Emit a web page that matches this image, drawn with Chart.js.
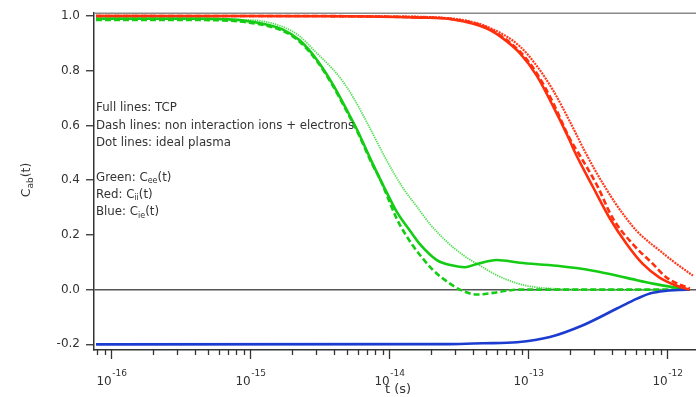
<!DOCTYPE html>
<html><head><meta charset="utf-8">
<script src="https://cdn.jsdelivr.net/npm/chart.js@4/dist/chart.umd.min.js"></script>
<style>html,body{margin:0;padding:0;background:#fff;}#wrap{position:relative;width:696px;height:397px;}</style>
</head><body><div id="wrap"><canvas id="c" width="696" height="397"></canvas></div>
<script>
// ---- data ----
const tRedSolid = [7.8e-17, 1e-15, 5e-15, 1.67e-14, 2.88e-14, 5.07e-14, 6.61e-14, 8.75e-14, 1.16e-13, 1.51e-13, 2.0e-13, 2.18e-13, 2.94e-13, 3.89e-13, 5.15e-13, 6.71e-13, 8.91e-13, 1.18e-12, 1.46e-12];
const cRedSolid = [1.0, 1.0, 0.999, 0.994, 0.987, 0.954, 0.918, 0.864, 0.781, 0.672, 0.545, 0.502, 0.375, 0.260, 0.166, 0.094, 0.043, 0.014, 0.0];

const tRedDash = [7.8e-17, 1e-15, 1.67e-14, 2.88e-14, 5.07e-14, 8.75e-14, 1.16e-13, 1.51e-13, 2.0e-13, 2.29e-13, 3.13e-13, 4.09e-13, 5.69e-13, 7.93e-13, 1.0e-12, 1.46e-12];
const cRedDash = [1.0, 1.0, 0.995, 0.988, 0.957, 0.870, 0.790, 0.685, 0.552, 0.502, 0.383, 0.260, 0.166, 0.094, 0.043, 0.004];

const tRedDot = [7.8e-17, 1e-14, 2.88e-14, 5.07e-14, 8.75e-14, 1.16e-13, 1.51e-13, 2.0e-13, 2.57e-13, 3.03e-13, 3.46e-13, 4.23e-13, 5.15e-13, 6.08e-13, 7.18e-13, 8.91e-13, 1.10e-12, 1.54e-12];
const cRedDot = [1.0, 0.998, 0.990, 0.961, 0.889, 0.817, 0.730, 0.615, 0.505, 0.438, 0.388, 0.318, 0.258, 0.214, 0.180, 0.142, 0.105, 0.051];

const tGreenSolid = [7.8e-17, 4.37e-16, 1.0e-15, 1.73e-15, 2.29e-15, 3.03e-15, 3.95e-15, 4.99e-15, 5.89e-15, 7.55e-15, 9.84e-15, 1.14e-14, 1.49e-14, 1.67e-14, 2.21e-14, 2.88e-14, 3.52e-14, 4.30e-14, 5.98e-14, 8.75e-14, 1.62e-13, 2.94e-13, 5.15e-13, 7.93e-13, 1.18e-12, 1.46e-12];
const cGreenSolid = [0.99, 0.99, 0.98, 0.95, 0.91, 0.84, 0.75, 0.655, 0.585, 0.466, 0.346, 0.284, 0.200, 0.166, 0.108, 0.088, 0.082, 0.094, 0.108, 0.098, 0.087, 0.069, 0.043, 0.022, 0.007, 0.0];

const tGreenDash = [7.8e-17, 4.37e-16, 1.0e-15, 1.73e-15, 2.29e-15, 3.03e-15, 3.95e-15, 4.99e-15, 5.89e-15, 7.55e-15, 8.61e-15, 9.84e-15, 1.14e-14, 1.49e-14, 1.67e-14, 2.07e-14, 2.61e-14, 3.24e-14, 4.30e-14, 5.60e-14, 7.06e-14, 8.75e-14, 3.30e-13, 1.46e-12];
const cGreenDash = [0.985, 0.985, 0.975, 0.945, 0.905, 0.835, 0.745, 0.65, 0.58, 0.46, 0.405, 0.335, 0.258, 0.160, 0.127, 0.072, 0.030, 0.0, -0.018, -0.012, -0.004, 0.0, 0.0, 0.0];

const tGreenDot = [7.8e-17, 1.0e-15, 1.73e-15, 2.29e-15, 3.03e-15, 3.58e-15, 4.44e-15, 5.50e-15, 7.30e-15, 9.68e-15, 1.26e-14, 1.59e-14, 1.97e-14, 2.61e-14, 3.40e-14, 4.52e-14, 5.60e-14, 7.43e-14, 9.84e-14, 1.37e-13, 3.30e-13, 1.46e-12];
const cGreenDot = [0.99, 0.985, 0.96, 0.925, 0.864, 0.828, 0.775, 0.705, 0.59, 0.47, 0.372, 0.303, 0.240, 0.175, 0.127, 0.088, 0.060, 0.032, 0.014, 0.005, 0.0, 0.0];

const tBlue = [7.8e-17, 2.75e-14, 4.74e-14, 8.34e-14, 1.44e-13, 2.49e-13, 4.37e-13, 5.69e-13, 7.55e-13, 1.0e-12, 1.24e-12, 1.46e-12];
const cBlue = [-0.2, -0.199, -0.196, -0.192, -0.173, -0.130, -0.069, -0.040, -0.014, -0.004, -0.001, 0.0];

const yTickValues = [-0.2, 0.0, 0.2, 0.4, 0.6, 0.8, 1.0];
const xMajorValues = [1e-16, 1e-15, 1e-14, 1e-13, 1e-12];
const xMajorExponents = ['-16', '-15', '-14', '-13', '-12'];
const xAxisTitle = 't (s)';
const yAxisTitle = [['C', 0], ['ab', 1], ['(t)', 0]];
const noteLines = [
  [['Full lines: TCP', 0]],
  [['Dash lines: non interaction ions + electrons', 0]],
  [['Dot lines: ideal plasma', 0]],
  null,
  [['Green: C', 0], ['ee', 1], ['(t)', 0]],
  [['Red: C', 0], ['ii', 1], ['(t)', 0]],
  [['Blue: C', 0], ['ie', 1], ['(t)', 0]]
];

// ---- styling ----
const RED = '#ff2f0e', GREEN = '#14cc14', GREEN_LIGHT = '#4fdc4f', RED_LIGHT = '#ff3a1e', BLUE = '#1c3ccf';
const FONT = 'DejaVu Sans';
const TXT = '#333';

function pts(ts, cs) { return ts.map((t, i) => ({x: t, y: cs[i]})); }
function ds(label, ts, cs, color, width, dash) {
  return {label, data: pts(ts, cs), borderColor: color, backgroundColor: color, borderWidth: width,
    borderDash: dash, pointRadius: 0, fill: false, cubicInterpolationMode: 'monotone', borderCapStyle: 'butt'};
}

function drawRich(ctx, x, y, parts, size, align) {
  const sub = Math.round(size * 0.68);
  let w = 0;
  for (const [t, s] of parts) { ctx.font = (s ? sub : size) + 'px "' + FONT + '"'; w += ctx.measureText(t).width; }
  let cx = align === 'center' ? x - w / 2 : x;
  for (const [t, s] of parts) {
    ctx.font = (s ? sub : size) + 'px "' + FONT + '"';
    ctx.fillText(t, cx, s ? y + size * 0.3 : y);
    cx += ctx.measureText(t).width;
  }
}

const decor = {
  id: 'decor',
  afterDraw(chart) {
    const {ctx, chartArea: a, scales: {x, y}} = chart;
    ctx.save();
    // top frame line
    ctx.strokeStyle = '#8a8a8a'; ctx.lineWidth = 1.6;
    ctx.beginPath(); ctx.moveTo(a.left, a.top); ctx.lineTo(a.right, a.top); ctx.stroke();
    // x ticks (major + minor)
    ctx.strokeStyle = '#333'; ctx.lineWidth = 1.3;
    for (let k = -17; k <= -12; k++) {
      for (let m = 1; m <= 9; m++) {
        const v = m * Math.pow(10, k);
        if (v < x.min || v > x.max) continue;
        const px = Math.round(x.getPixelForValue(v)) + 0.5;
        const len = m === 1 ? 9 : 5;
        ctx.beginPath(); ctx.moveTo(px, a.bottom); ctx.lineTo(px, a.bottom + len); ctx.stroke();
      }
    }
    // x tick labels with superscript exponents
    ctx.fillStyle = TXT; ctx.textBaseline = 'alphabetic'; ctx.textAlign = 'left';
    xMajorValues.forEach((v, i) => {
      const px = x.getPixelForValue(v);
      ctx.font = '12px "' + FONT + '"';
      const w1 = ctx.measureText('10').width;
      ctx.font = '9px "' + FONT + '"';
      const w2 = ctx.measureText(xMajorExponents[i]).width;
      const sx = px - (w1 + w2) / 2 + 0.5;
      ctx.font = '12px "' + FONT + '"';
      ctx.fillText('10', sx, 384.5);
      ctx.font = '9px "' + FONT + '"';
      ctx.fillText(xMajorExponents[i], sx + w1 + 0.5, 375.5);
    });
    // x axis title
    ctx.textAlign = 'center'; ctx.textBaseline = 'middle';
    ctx.font = '13px "' + FONT + '"';
    ctx.fillText(xAxisTitle, 398, 390);
    // y axis title (rotated)
    ctx.save();
    ctx.translate(27, 180); ctx.rotate(-Math.PI / 2);
    ctx.textAlign = 'left'; ctx.textBaseline = 'middle';
    drawRich(ctx, 0, 0, yAxisTitle, 12.5, 'center');
    ctx.restore();
    // notes
    ctx.textAlign = 'left'; ctx.textBaseline = 'middle';
    noteLines.forEach((line, i) => {
      if (!line) return;
      drawRich(ctx, 96, 108.3 + i * 17.3, line, 11.8, 'left');
    });
    ctx.restore();
  }
};

new Chart(document.getElementById('c'), {
  type: 'line',
  data: {
    datasets: [
      ds('Red TCP', tRedSolid, cRedSolid, RED, 2.6, []),
      ds('Red non-interacting', tRedDash, cRedDash, RED, 2.6, [6, 3]),
      ds('Red ideal', tRedDot, cRedDot, RED_LIGHT, 2.2, [2, 1]),
      ds('Blue TCP', tBlue, cBlue, BLUE, 2.6, []),
      ds('Green TCP', tGreenSolid, cGreenSolid, GREEN, 2.6, []),
      ds('Green non-interacting', tGreenDash, cGreenDash, GREEN, 2.6, [6, 3]),
      ds('Green ideal', tGreenDot, cGreenDot, GREEN_LIGHT, 1.8, [1.3, 1.0])
    ]
  },
  options: {
    responsive: false, animation: false, devicePixelRatio: 1,
    layout: {padding: {top: 10, left: 0, right: 0, bottom: 0}},
    plugins: {legend: {display: false}, tooltip: {enabled: false}},
    scales: {
      x: {
        type: 'logarithmic', min: 7.55e-17, max: 1.62e-12,
        afterFit: s => { s.height = 47; },
        ticks: {display: false},
        grid: {drawOnChartArea: false, drawTicks: false},
        border: {color: '#333', width: 1.5}
      },
      y: {
        type: 'linear', min: -0.2206, max: 1.010,
        afterFit: s => { s.width = 94; },
        afterBuildTicks: s => { s.ticks = yTickValues.map(v => ({value: v})); },
        ticks: {callback: v => Number(v).toFixed(1), font: {family: FONT, size: 12}, color: TXT, padding: 6},
        grid: {
          color: c => (c.tick && Math.abs(c.tick.value) < 1e-9) ? '#555' : 'rgba(0,0,0,0)',
          lineWidth: 1.5, tickLength: 8, tickColor: '#333', tickWidth: 1.3
        },
        border: {color: '#333', width: 1.5}
      }
    }
  },
  plugins: [decor]
});
</script>
</body></html>
